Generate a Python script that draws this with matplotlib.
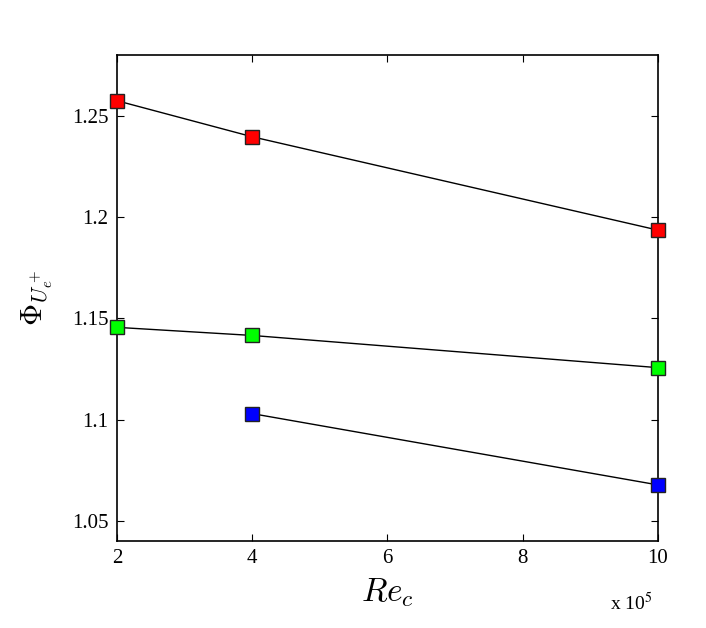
import matplotlib
matplotlib.use('Agg')
import matplotlib.pyplot as plt

plt.rcParams['font.family'] = 'Liberation Serif'
plt.rcParams['mathtext.fontset'] = 'cm'

# Re_c in units of 1e5
re_red = [2, 4, 10]
phi_red = [1.2574, 1.2396, 1.1935]
re_green = [2, 4, 10]
phi_green = [1.1455, 1.1415, 1.1256]
re_blue = [4, 10]
phi_blue = [1.1029, 1.0677]

xticks = [2, 4, 6, 8, 10]
yticks = [1.05, 1.1, 1.15, 1.2, 1.25]
ytick_labels = ['1.05', '1.1', '1.15', '1.2', '1.25']

fig = plt.figure(figsize=(7.06, 6.28), dpi=100)
ax = fig.add_axes([0.1657, 0.1385, 0.7663, 0.774])

for xs, ys, c in [(re_red, phi_red, '#ff0000'),
                  (re_green, phi_green, '#00ff00'),
                  (re_blue, phi_blue, '#0000ff')]:
    ax.plot(xs, ys, '-', color='black', linewidth=1, zorder=2)
    ax.plot(xs, ys, 's', markersize=10, markerfacecolor=c,
            markeredgecolor='#222222', markeredgewidth=1, zorder=3, clip_on=False)

ax.set_xlim(2, 10)
ax.set_ylim(1.04, 1.28)
ax.set_xticks(xticks)
ax.set_yticks(yticks)
ax.set_yticklabels(ytick_labels)
ax.tick_params(direction='in', top=True, right=True, labelsize=15, length=5, pad=6)
for s in ax.spines.values():
    s.set_linewidth(1.2)

ax.set_xlabel(r'$Re_c$', fontsize=24, labelpad=6)
ax.set_ylabel(r'$\Phi_{U_e^+}$', fontsize=22, labelpad=12)
fig.text(0.864, 0.028, r'x 10$^5$', fontsize=14, math_fontfamily='stix')

fig.savefig('out.png', dpi=100)
